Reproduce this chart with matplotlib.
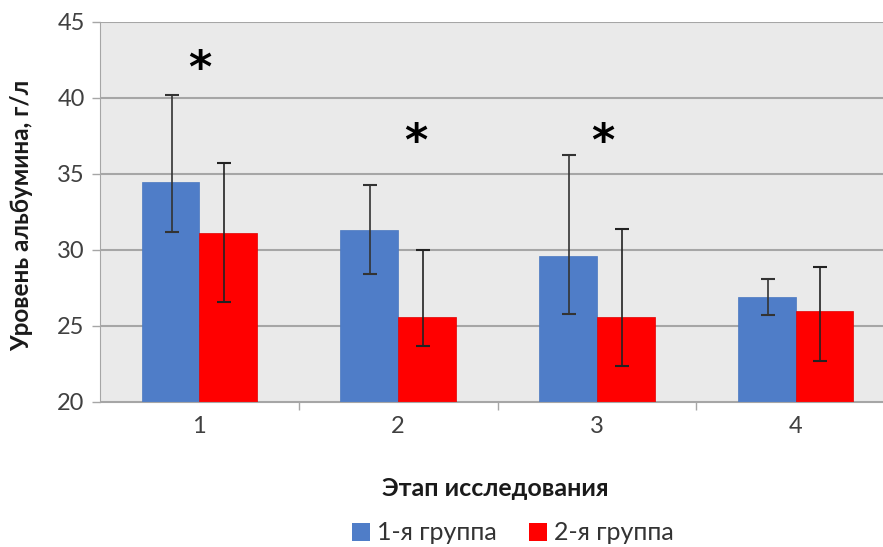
import matplotlib
matplotlib.use("Agg")
import matplotlib.pyplot as plt
import numpy as np
from matplotlib.patches import Patch

plt.rcParams['font.family'] = ['Lato', 'DejaVu Sans']

stages = ["1", "2", "3", "4"]
group1 = [34.5, 31.3, 29.6, 26.9]
group1_low = [31.2, 28.4, 25.8, 25.7]
group1_high = [40.2, 34.3, 36.25, 28.1]
group2 = [31.1, 25.6, 25.6, 26.0]
group2_low = [26.6, 23.7, 22.4, 22.7]
group2_high = [35.7, 30.0, 31.35, 28.9]
star_stages = [1.0, 2.09, 3.03]
star_levels = [41.9, 37.1, 37.1]
series_names = ["1-я группа", "2-я группа"]

W, H = 883, 547
fig = plt.figure(figsize=(W/100, H/100), dpi=100)
ax = fig.add_axes([100/W, 1-402/H, 795/W, 380/H])
ax.set_facecolor('#EAEAEA')

x = np.arange(1, len(stages)+1)
bw = 0.29
g1 = np.array(group1); g2 = np.array(group2)
err1 = [g1 - np.array(group1_low), np.array(group1_high) - g1]
err2 = [g2 - np.array(group2_low), np.array(group2_high) - g2]
ax.bar(x - bw/2, g1, bw, color='#4F7DC8', edgecolor='#4A78C0', linewidth=0.5, zorder=2)
ax.bar(x + bw/2, g2, bw, color='#FF0000', edgecolor='#E00000', linewidth=0.5, zorder=2)
ax.errorbar(x - bw/2 + 0.005, g1, yerr=err1, fmt='none', ecolor='#333333', elinewidth=1.2, capsize=5, capthick=1.5, zorder=3)
ax.errorbar(x + bw/2 - 0.02, g2, yerr=err2, fmt='none', ecolor='#222222', elinewidth=1.2, capsize=5, capthick=1.5, zorder=3)

for sx, sy in zip(star_stages, star_levels):
    ax.text(sx, sy, "*", ha='center', va='center', fontsize=32, fontweight='bold', color='black', family='DejaVu Sans')

ax.set_ylim(20, 45)
ax.set_xlim(0.5, 4.5)
ax.set_yticks([20, 25, 30, 35, 40, 45])
ax.yaxis.grid(True, color='#A6A6A6', linewidth=1.5, zorder=0)
ax.set_axisbelow(True)
ax.set_xticks(x)
ax.set_xticklabels(stages)
ax.set_xticks(np.arange(1.5, 4.5, 1), minor=True)
ax.tick_params(axis='x', which='major', length=0, labelsize=17, colors='#404040', pad=10)
ax.tick_params(axis='x', which='minor', length=6, color='#A6A6A6', width=1)
ax.tick_params(axis='y', length=6, color='#A6A6A6', width=1, labelsize=17, labelcolor='#404040', pad=5)
for s in ['top', 'right']:
    ax.spines[s].set_visible(False)
ax.spines['left'].set_color('#A6A6A6')
ax.spines['bottom'].set_color('#A6A6A6')

fig.text(22/W, 1-215/H, "Уровень альбумина, г/л", rotation=90, ha='center', va='center', fontsize=17.5, fontweight='bold', color='#1a1a1a')
fig.text(495/W, 1-488/H, "Этап исследования", ha='center', va='center', fontsize=18, fontweight='bold', color='#1a1a1a')

handles = [Patch(facecolor='#4F7DC8'), Patch(facecolor='#FF0000')]
fig.legend(handles, series_names, loc='center', bbox_to_anchor=(513/W, 1-533/H), ncol=2, frameon=False,
           fontsize=18, handlelength=0.7, handleheight=0.7, handletextpad=0.3, columnspacing=1.3,
           labelcolor='#333333')

fig.savefig("out.png", dpi=100)
